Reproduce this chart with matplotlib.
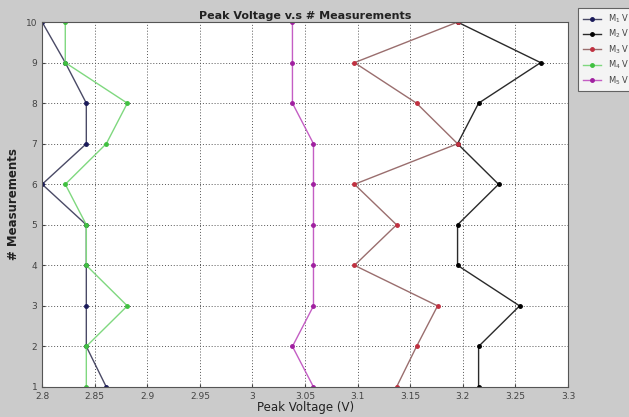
import matplotlib
matplotlib.use("Agg")
import matplotlib.pyplot as plt

measurements = [1, 2, 3, 4, 5, 6, 7, 8, 9, 10]
m1 = [2.861, 2.842, 2.842, 2.842, 2.842, 2.800, 2.842, 2.842, 2.822, 2.800]
m2 = [3.215, 3.215, 3.254, 3.195, 3.195, 3.234, 3.195, 3.215, 3.274, 3.195]
m3 = [3.137, 3.156, 3.176, 3.097, 3.137, 3.097, 3.195, 3.156, 3.097, 3.195]
m4 = [2.842, 2.842, 2.881, 2.842, 2.842, 2.822, 2.861, 2.881, 2.822, 2.822]
m5 = [3.058, 3.038, 3.058, 3.058, 3.058, 3.058, 3.058, 3.038, 3.038, 3.038]
labels = ["M$_1$ V", "M$_2$ V", "M$_3$ V", "M$_4$ V", "M$_5$ V"]
xticks = [2.8, 2.85, 2.9, 2.95, 3.0, 3.05, 3.1, 3.15, 3.2, 3.25, 3.3]
xticklabels = ["2.8", "2.85", "2.9", "2.95", "3", "3.05", "3.1", "3.15", "3.2", "3.25", "3.3"]

line_colors = ["#4a4a66", "#2a2a2a", "#9a6e6e", "#7fd87f", "#c45ec4"]
marker_colors = ["#1a1a5a", "#000000", "#c03040", "#40c040", "#a020a0"]

fig = plt.figure(figsize=(6.29, 4.17), dpi=100, facecolor="#cbcbcb")
ax = fig.add_axes([0.067, 0.072, 0.836, 0.875])
ax.set_facecolor("white")

series = [m1, m2, m3, m4, m5]
for vals, lc, mc, lab in zip(series, line_colors, marker_colors, labels):
    ax.plot(vals, measurements, color=lc, lw=1.0, marker="o", ms=2.5,
            mfc=mc, mec=mc, label=lab)

ax.set_xlim(2.8, 3.3)
ax.set_ylim(1, 10)
ax.set_xticks(xticks)
ax.set_xticklabels(xticklabels)
ax.set_yticks(measurements)
ax.tick_params(labelsize=6.5, colors="#444444", length=2, direction="in")
ax.grid(True, color="#555555", linestyle=(0, (1, 2)), linewidth=0.7)
for s in ax.spines.values():
    s.set_color("#555555")
    s.set_linewidth(0.8)

ax.set_title("Peak Voltage v.s # Measurements", fontsize=8, fontweight="bold",
             color="#222222", pad=2)
ax.set_xlabel("Peak Voltage (V)", fontsize=8.5, labelpad=0, color="#222222")
ax.set_ylabel("# Measurements", fontsize=8.5, fontweight="bold", labelpad=4, color="#222222")

leg = fig.legend(loc="upper left", bbox_to_anchor=(0.913, 0.99, 0.15, 0), mode="expand",
                 fontsize=6, frameon=True, fancybox=False, edgecolor="#444444",
                 handlelength=2.2, borderpad=0.5, labelspacing=0.35)
leg.get_frame().set_linewidth(0.8)
leg.get_frame().set_facecolor("white")
for t in leg.get_texts():
    t.set_color("#444444")

fig.savefig("out.png", dpi=100, facecolor=fig.get_facecolor())
